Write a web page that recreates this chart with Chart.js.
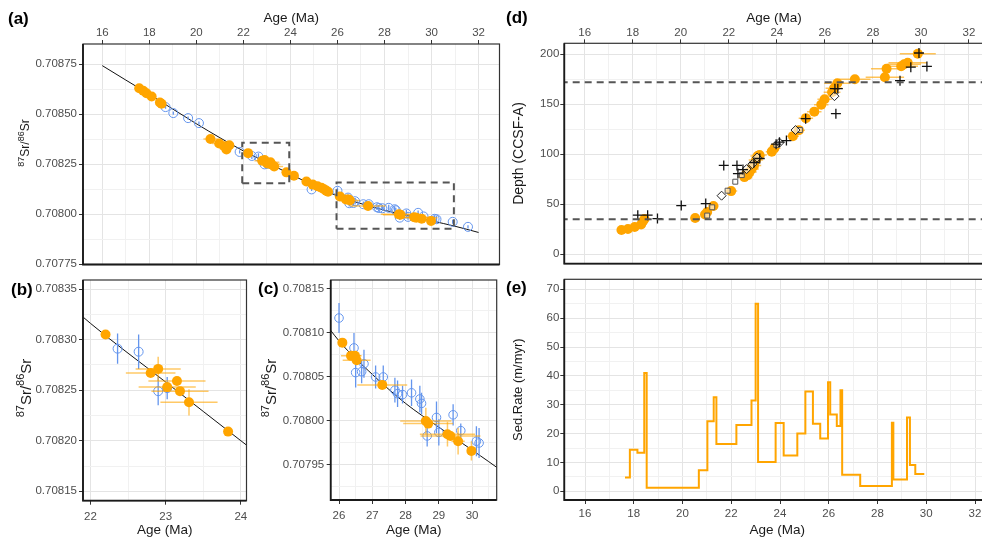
<!DOCTYPE html>
<html>
<head>
<meta charset="utf-8">
<script src="https://cdn.jsdelivr.net/npm/chart.js@4.4.0/dist/chart.umd.min.js"></script>
<style>
  html, body { margin: 0; padding: 0; background: #fff; width: 982px; height: 538px; overflow: hidden; position: relative; }
  canvas { position: absolute; }
  .tag { position: absolute; font: bold 17px "Liberation Sans", Arial, sans-serif; color: #000; line-height: 1; }
</style>
</head>
<body>
<canvas id="pa"></canvas>
<canvas id="pb"></canvas>
<canvas id="pc"></canvas>
<canvas id="pd"></canvas>
<canvas id="pe"></canvas>
<div class="tag" style="left:8px;top:10px">(a)</div>
<div class="tag" style="left:11px;top:281px">(b)</div>
<div class="tag" style="left:258px;top:280px">(c)</div>
<div class="tag" style="left:506px;top:9px">(d)</div>
<div class="tag" style="left:506px;top:279px">(e)</div>
<script>
// ---------- Sr isotope data (panels a, b, c) ----------
const srOrangeAge = [17.57, 17.74, 17.88, 18.10, 18.45, 18.52, 20.60, 20.97, 21.18, 21.28, 21.40,
  22.20, 22.80, 22.90, 23.02, 23.15, 23.19, 23.31, 23.83, 24.15, 24.68, 24.95, 25.15, 25.32, 25.43,
  25.52, 25.60, 26.10, 26.36, 26.48, 26.53, 27.30, 28.61, 28.68, 29.26, 29.35, 29.58, 29.98];
const srOrangeVal = [0.708629, 0.708617, 0.708604, 0.708588, 0.708558, 0.708552, 0.708376, 0.708353,
  0.708339, 0.708323, 0.708344, 0.708305, 0.708267, 0.708271, 0.708253, 0.708259, 0.708249, 0.708238,
  0.708209, 0.708192, 0.708163, 0.708148, 0.708140, 0.708132, 0.708125, 0.708118, 0.708112, 0.708089,
  0.708074, 0.708074, 0.708069, 0.708041, 0.708000, 0.707997, 0.707985, 0.707983, 0.707977, 0.707966];
const srOrangeAgeErr = [0.1, 0.1, 0.1, 0.1, 0.1, 0.1, 0.3, 0.3, 0.2, 0.2, 0.2,
  0, 0.33, 0.3, 0.38, 0.38, 0.38, 0.38, 0, 0, 0.15, 0.15, 0.15, 0.15, 0.1,
  0.05, 0.03, 0, 0.3, 0.2, 0.42, 0.75, 0.77, 0.75, 0.83, 0.9, 0.2, 0.1];
const srOrangeValErr = [0, 0, 0, 0, 0, 0, 0, 0, 0, 0, 0,
  0, 0, 0.000012, 0, 0, 0, 0.000013, 0, 0, 0, 0, 0, 0, 0,
  0, 0, 0, 0, 0, 0, 0, 0.000015, 0, 0.000014, 0, 0.000015, 0.000011];

const srBlueAge = [18.69, 19.02, 19.65, 20.11, 21.84, 22.36, 22.64, 22.90, 23.02, 24.90, 26.00, 26.45,
  26.50, 26.68, 26.75, 27.10, 27.33, 27.68, 27.76, 27.91, 28.18, 28.43, 28.48, 28.65, 28.93, 29.00,
  29.43, 29.66, 30.13, 30.21, 30.90, 31.55];
const srBlueVal = [0.708535, 0.708505, 0.708480, 0.708455, 0.708311, 0.708291, 0.708288, 0.708249,
  0.708252, 0.708124, 0.708117, 0.708083, 0.708055, 0.708056, 0.708065, 0.708050, 0.708050, 0.708035,
  0.708031, 0.708030, 0.708032, 0.708025, 0.708020, 0.707983, 0.708004, 0.707987, 0.708007, 0.707989,
  0.707977, 0.707975, 0.707962, 0.707937];
const srBlueErr = [0.000008, 0.000008, 0.000008, 0.000008, 0.000008, 0.000015, 0.000017, 0.000014,
  0.000011, 0.000008, 0.000017, 0.000017, 0.000017, 0.000013, 0.000016, 0.000013, 0.000013, 0.000014,
  0.000015, 0.000010, 0.000015, 0.000015, 0.000012, 0.000012, 0.000018, 0.000015, 0.000012, 0.000008,
  0.000017, 0.000017, 0.000010, 0.000008];

// reference seawater curve
const curveAge = [16, 17, 18, 19, 20, 21, 22, 23, 24, 25, 26, 27, 28, 29, 30, 31, 32];
const curveVal = [0.708742, 0.708670, 0.708599, 0.708525, 0.708452, 0.708382, 0.708316, 0.708258,
  0.708200, 0.708143, 0.708091, 0.708053, 0.708020, 0.707993, 0.707967, 0.707940, 0.707909];

// zoom windows drawn in (a)
const boxB_age = [21.95, 23.95];
const boxB_sr = [0.708155, 0.708357];
const boxC_age = [25.96, 30.95];
const boxC_sr = [0.707927, 0.708159];

// ---------- age-depth data (panel d) ----------
const adAge = [17.53, 17.80, 18.08, 18.35, 18.42, 18.49, 20.60, 21.01, 21.10, 21.36, 22.10, 22.65,
  22.72, 22.79, 22.86, 22.95, 23.05, 23.13, 23.20, 23.28, 23.79, 23.90, 24.67, 24.92, 25.21, 25.56,
  25.85, 25.99, 26.30, 26.38, 26.52, 27.25, 28.50, 28.57, 29.18, 29.30, 29.45, 29.87];
const adDepth = [24, 25, 27, 29.5, 32.5, 35, 36, 39.5, 42, 48, 63, 77, 80, 79, 82, 85, 88.5, 94, 98,
  99, 102.5, 106, 118, 124, 136, 142.5, 149.5, 155, 162, 166, 171, 175, 177, 185.5, 188, 190, 191.5, 200.5];
const adAgeErr = [0.1, 0.1, 0.1, 0.1, 0.1, 0.1, 0.2, 0.2, 0.2, 0.2, 0.25, 0.25, 0.25, 0.25, 0.3, 0.3,
  0.3, 0.3, 0.3, 0.3, 0.25, 0.25, 0.25, 0.25, 0.3, 0.3, 0.3, 0.3, 0.35, 0.35, 0.55, 0.65, 0.8, 0.65,
  0.7, 0.7, 0.8, 0.75];
const plusAge = [18.21, 18.62, 19.03, 20.02, 21.04, 21.79, 22.34, 22.38, 22.59, 23.05, 23.29, 23.97,
  24.11, 24.40, 25.20, 26.42, 26.54, 26.46, 29.13, 29.58, 30.25, 29.92];
const plusDepth = [38.9, 38.9, 35.5, 48.5, 50.5, 88.7, 88.7, 80.5, 84.5, 91.6, 95.6, 110, 112, 113.6,
  135.5, 165.5, 165.5, 140.5, 173.5, 187, 187.8, 201.2];
const squareAge = [21.10, 21.31, 21.95, 22.27, 22.54, 23.98, 24.96];
const squareDepth = [38.5, 46.8, 63.4, 72.4, 79, 109.2, 124.1];
const diamondAge = [21.70, 22.74, 22.98, 23.18, 24.11, 24.78, 26.40];
const diamondDepth = [58.4, 85, 90, 96.6, 111.5, 124.1, 158];
const depthLines = [172, 34.8];

// ---------- sedimentation rate (panel e) ----------
const rateAge = [17.64, 17.84, 18.15, 18.43, 18.53, 20.67, 21.02, 21.28, 21.39, 22.21, 22.83, 23.00,
  23.10, 23.82, 24.15, 24.71, 25.04, 25.35, 25.65, 25.97, 26.06, 26.33, 26.48, 26.55, 27.29, 28.59,
  28.65, 29.21, 29.33, 29.55, 29.92];
const rateVal = [4.8, 14.4, 13.4, 41, 1.2, 7.3, 24.3, 32.6, 16.4, 23, 31.5, 65, 10.2, 23.7, 12.4, 20,
  34.6, 23.4, 18.3, 37.8, 26.6, 22.6, 35, 5.7, 1.8, 23.8, 4.1, 25.6, 9.1, 6, 6];

// ---------- tick values ----------
const ageTicksWide = [16, 18, 20, 22, 24, 26, 28, 30, 32];
const ageMinorWide = [17, 19, 21, 23, 25, 27, 29, 31];
const srTicksA = [0.70775, 0.70800, 0.70825, 0.70850, 0.70875];
const srMinorA = [0.707875, 0.708125, 0.708375, 0.708625];
const ageTicksB = [22, 23, 24];
const ageMinorB = [22.5, 23.5];
const srTicksB = [0.70815, 0.70820, 0.70825, 0.70830, 0.70835];
const srMinorB = [0.708175, 0.708225, 0.708275, 0.708325];
const ageTicksC = [26, 27, 28, 29, 30];
const ageMinorC = [26.5, 27.5, 28.5, 29.5, 30.5];
const srTicksC = [0.70795, 0.70800, 0.70805, 0.70810, 0.70815];
const srMinorC = [0.707925, 0.707975, 0.708025, 0.708075, 0.708125];
const depthTicks = [0, 50, 100, 150, 200];
const depthMinor = [25, 75, 125, 175];
const rateTicks = [0, 10, 20, 30, 40, 50, 60, 70];
const rateMinor = [5, 15, 25, 35, 45, 55, 65];

// ======================
// HELPERS / PLUGINS
// ======================
const FONT = '"Liberation Sans", Arial, sans-serif';
const ORANGE = '#FFA500';
const BLUE = '#6495ED';

function pts(xs, ys) { return xs.map((x, i) => ({ x: x, y: ys[i] })); }
function isIn(list, v) { return list.some(m => Math.abs(m - v) < 1e-9); }
function rect(xr, yr) {
  return [{ x: xr[0], y: yr[0] }, { x: xr[1], y: yr[0] }, { x: xr[1], y: yr[1] },
          { x: xr[0], y: yr[1] }, { x: xr[0], y: yr[0] }];
}

function makeAxis(pos, range, major, minor, o) {
  const vertical = pos === 'left';
  return {
    type: 'linear', position: pos, min: range[0], max: range[1],
    afterBuildTicks: s => {
      s.ticks = major.concat(minor).sort((a, b) => a - b).map(v => ({ value: v }));
    },
    afterFit: s => {
      if (vertical) s.width = o.size; else s.height = o.size;
      s.paddingTop = s.paddingBottom = s.paddingLeft = s.paddingRight = 0;
    },
    border: { display: false },
    grid: {
      color: c => (c.tick && isIn(major, c.tick.value)) ? '#e4e4e4' : '#f1f1f1',
      tickColor: c => (c.tick && isIn(major, c.tick.value)) ? '#333' : 'rgba(0,0,0,0)',
      tickLength: 4, lineWidth: 1
    },
    ticks: {
      autoSkip: false, maxRotation: 0, minRotation: 0, padding: o.pad, color: '#4d4d4d',
      font: { family: FONT, size: 11.5 },
      callback: v => isIn(major, v) ? o.fmt(v) : ''
    },
    title: o.title ? {
      display: true, text: o.title, color: '#1a1a1a',
      font: { family: FONT, size: o.titleSize || 13.5 }, padding: o.titlePad
    } : { display: false }
  };
}

const errorBars = {
  id: 'errorBars',
  beforeDatasetDraw(chart, args) {
    const ds = chart.data.datasets[args.index];
    if (!ds.errX && !ds.errY) return;
    const { ctx, chartArea: a, scales: { x, y } } = chart;
    ctx.save();
    ctx.beginPath();
    ctx.rect(a.left, a.top, a.right - a.left, a.bottom - a.top);
    ctx.clip();
    ctx.strokeStyle = ds.errColor;
    ctx.lineWidth = ds.errWidth || 1.5;
    ds.data.forEach((p, i) => {
      const px = x.getPixelForValue(p.x), py = y.getPixelForValue(p.y);
      ctx.beginPath();
      if (ds.errX && ds.errX[i]) {
        ctx.moveTo(x.getPixelForValue(p.x - ds.errX[i]), py);
        ctx.lineTo(x.getPixelForValue(p.x + ds.errX[i]), py);
      }
      if (ds.errY && ds.errY[i]) {
        ctx.moveTo(px, y.getPixelForValue(p.y - ds.errY[i]));
        ctx.lineTo(px, y.getPixelForValue(p.y + ds.errY[i]));
      }
      ctx.stroke();
    });
    ctx.restore();
  }
};

const frame = {
  id: 'frame',
  afterDatasetsDraw(chart) {
    const { ctx, chartArea: a } = chart;
    ctx.save();
    ctx.strokeStyle = '#333';
    ctx.lineWidth = 1.2;
    ctx.strokeRect(a.left, a.top, a.right - a.left, a.bottom - a.top);
    ctx.strokeStyle = '#1a1a1a';
    ctx.lineWidth = 1.8;
    ctx.beginPath();
    ctx.moveTo(a.left, a.top);
    ctx.lineTo(a.left, a.bottom);
    ctx.lineTo(a.right, a.bottom);
    ctx.stroke();
    ctx.restore();
  }
};

// 87Sr/86Sr axis title with superscripts
const srTitle = {
  id: 'srTitle',
  afterDraw(chart, args, o) {
    if (!o || !o.size) return;
    const ctx = chart.ctx;
    const parts = [['87', true], ['Sr/', false], ['86', true], ['Sr', false]];
    const mainF = o.size + 'px ' + FONT;
    const supF = Math.round(o.size * 0.72) + 'px ' + FONT;
    ctx.save();
    let w = 0;
    parts.forEach(p => { ctx.font = p[1] ? supF : mainF; w += ctx.measureText(p[0]).width; });
    ctx.translate(o.x, o.y);
    ctx.rotate(-Math.PI / 2);
    ctx.fillStyle = '#1a1a1a';
    ctx.textBaseline = 'alphabetic';
    let u = -w / 2;
    parts.forEach(p => {
      ctx.font = p[1] ? supF : mainF;
      ctx.fillText(p[0], u, p[1] ? -o.size * 0.45 : 0);
      u += ctx.measureText(p[0]).width;
    });
    ctx.restore();
  }
};

function panel(id, left, top, w, h, pad, scales, datasets, sr) {
  const cv = document.getElementById(id);
  cv.width = w; cv.height = h;
  cv.style.left = left + 'px';
  cv.style.top = top + 'px';
  return new Chart(cv, {
    type: 'scatter',
    data: { datasets: datasets },
    options: {
      responsive: false, animation: false, devicePixelRatio: 1,
      layout: { padding: pad },
      scales: scales,
      plugins: { legend: { display: false }, tooltip: { enabled: false }, srTitle: sr || {} }
    },
    plugins: sr ? [errorBars, frame, srTitle] : [errorBars, frame]
  });
}

// ======================
// DATASETS
// ======================
function srSets(orangeR, blueR, clip) {
  return [
    { data: pts(srOrangeAge, srOrangeVal), pointRadius: orangeR, pointBackgroundColor: ORANGE,
      pointBorderWidth: 0, errX: srOrangeAgeErr, errY: srOrangeValErr, clip: clip,
      errColor: 'rgba(255,165,0,0.6)', errWidth: 1.5 },
    { data: pts(srBlueAge, srBlueVal), pointRadius: blueR, pointBackgroundColor: 'rgba(0,0,0,0)',
      pointBorderColor: BLUE, pointBorderWidth: 1, errY: srBlueErr, errColor: BLUE, errWidth: 1.3,
      clip: clip },
    { data: pts(curveAge, curveVal), showLine: true, borderColor: '#111', borderWidth: 1,
      pointRadius: 0, cubicInterpolationMode: 'monotone', clip: 0 }
  ];
}
const dashed = { showLine: true, borderColor: '#555', borderWidth: 2, borderDash: [7, 5], pointRadius: 0 };
const srFmt = v => v.toFixed(5);
const ageFmt = v => String(v);

// (a)
panel('pa', 0, 0, 505, 270, { top: 0, left: 0, right: 5, bottom: 5 }, {
  x: makeAxis('top', [15.18, 32.89], ageTicksWide, ageMinorWide,
    { size: 44, pad: 0, fmt: ageFmt, title: 'Age (Ma)', titlePad: { top: 10, bottom: 0 } }),
  y: makeAxis('left', [0.707749, 0.70885], srTicksA, srMinorA, { size: 83, pad: 2, fmt: srFmt })
}, [
  Object.assign({ data: rect(boxB_age, boxB_sr) }, dashed),
  Object.assign({ data: rect(boxC_age, boxC_sr) }, dashed)
].concat(srSets(5, 4.5, 6)), { x: 29, y: 143, size: 12 });

// (b)
panel('pb', 0, 270, 252, 268, { top: 10, left: 0, right: 4, bottom: 0 }, {
  x: makeAxis('bottom', [21.90, 24.075], ageTicksB, ageMinorB,
    { size: 37.3, pad: 5, fmt: ageFmt, title: 'Age (Ma)', titlePad: { top: 0, bottom: 0 } }),
  y: makeAxis('left', [0.7081407, 0.7083589], srTicksB, srMinorB, { size: 83, pad: 2, fmt: srFmt })
}, srSets(5, 4.5, 0), { x: 30.5, y: 118, size: 15 });

// (c)
panel('pc', 250, 270, 252, 268, { top: 10, left: 0, right: 5, bottom: 0 }, {
  x: makeAxis('bottom', [25.75, 30.74], ageTicksC, ageMinorC,
    { size: 38, pad: 5, fmt: ageFmt, title: 'Age (Ma)', titlePad: { top: 0, bottom: 0 } }),
  y: makeAxis('left', [0.7079102, 0.7081602], srTicksC, srMinorC, { size: 80.7, pad: 2.5, fmt: srFmt })
}, srSets(5, 4.3, 0), { x: 26, y: 118, size: 15 });

// (d)
panel('pd', 500, 0, 490, 270, { top: 0, left: 0, right: 0, bottom: 5 }, {
  x: makeAxis('top', [15.15, 32.615], ageTicksWide, ageMinorWide,
    { size: 43.3, pad: 0, fmt: ageFmt, title: 'Age (Ma)', titlePad: { top: 10, bottom: 0 } }),
  y: makeAxis('left', [-9.65, 210.9], depthTicks, depthMinor,
    { size: 64.3, pad: 1, fmt: ageFmt, title: 'Depth (CCSF-A)', titleSize: 14, titlePad: { top: 10.6, bottom: 0 } })
}, [
  Object.assign({ data: [{ x: 14, y: depthLines[0] }, { x: 34, y: depthLines[0] }] }, dashed),
  Object.assign({ data: [{ x: 14, y: depthLines[1] }, { x: 34, y: depthLines[1] }] }, dashed),
  { data: pts(plusAge, plusDepth), pointStyle: 'cross', pointRadius: 5, pointBorderColor: '#111',
    pointBorderWidth: 1.3 },
  { data: pts(diamondAge, diamondDepth), pointStyle: 'rectRot', pointRadius: 4.5,
    pointBackgroundColor: 'rgba(255,255,255,0.6)', pointBorderColor: '#222', pointBorderWidth: 1 },
  { data: pts(squareAge, squareDepth), pointStyle: 'rect', pointRadius: 3.5,
    pointBackgroundColor: 'rgba(255,255,255,0.6)', pointBorderColor: '#555', pointBorderWidth: 1 },
  { data: pts(adAge, adDepth), pointRadius: 5, pointBackgroundColor: ORANGE, pointBorderWidth: 0,
    errX: adAgeErr, errColor: 'rgba(255,165,0,0.65)', errWidth: 1.5 }
]);

// (e)
panel('pe', 500, 270, 490, 268, { top: 9.3, left: 0, right: 0, bottom: 0 }, {
  x: makeAxis('bottom', [15.15, 32.615], ageTicksWide, ageMinorWide,
    { size: 38, pad: 2.5, fmt: ageFmt, title: 'Age (Ma)', titlePad: { top: 0, bottom: 0 } }),
  y: makeAxis('left', [-3.01, 73.47], rateTicks, rateMinor,
    { size: 64.3, pad: 1, fmt: ageFmt, title: 'Sed.Rate (m/myr)', titleSize: 13, titlePad: { top: 10.2, bottom: 0 } })
}, [
  { data: pts(rateAge, rateVal), showLine: true, stepped: true, borderColor: ORANGE, borderWidth: 2,
    pointRadius: 0 }
]);
</script>
</body>
</html>
